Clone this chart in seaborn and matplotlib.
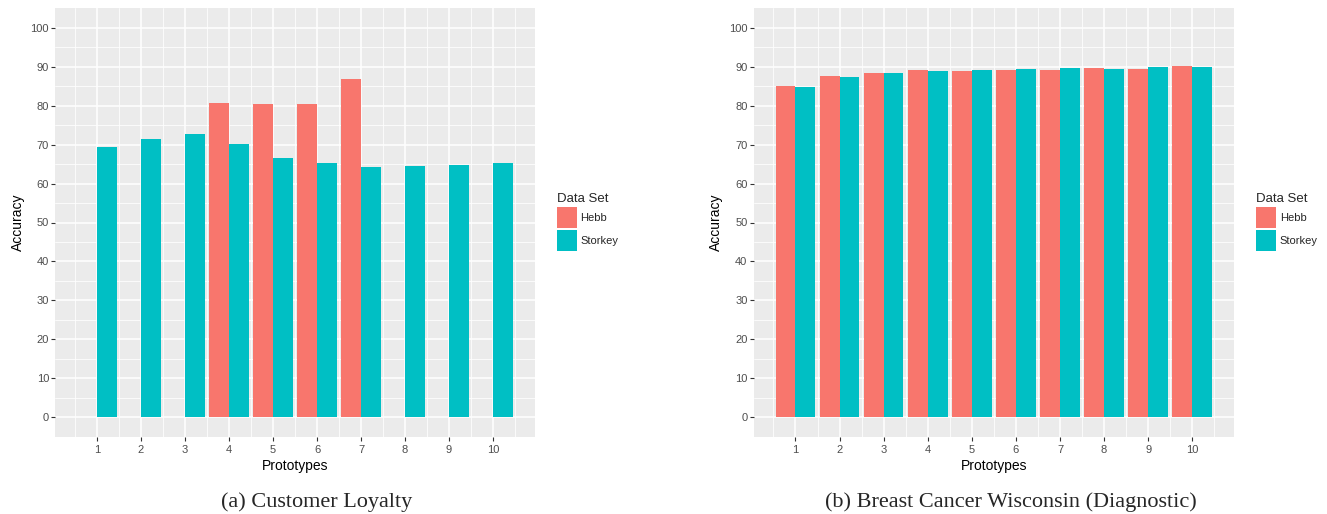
import pandas as pd
import matplotlib.pyplot as plt
from matplotlib.ticker import FixedLocator
from matplotlib.patches import Patch
import seaborn as sns

prototypes = [1, 2, 3, 4, 5, 6, 7, 8, 9, 10]
series = ["Hebb", "Storkey"]

# (a) Customer Loyalty
loyalty_hebb = [0, 0, 0, 80.8, 80.5, 80.4, 86.9, 0, 0, 0]
loyalty_storkey = [69.5, 71.5, 72.8, 70.2, 66.6, 65.2, 64.3, 64.6, 64.8, 65.3]

# (b) Breast Cancer Wisconsin (Diagnostic)
cancer_hebb = [85.1, 87.7, 88.5, 89.2, 88.8, 89.2, 89.2, 89.6, 89.4, 90.3]
cancer_storkey = [84.7, 87.3, 88.4, 88.8, 89.1, 89.3, 89.6, 89.3, 89.8, 89.8]

captions = ["(a) Customer Loyalty", "(b) Breast Cancer Wisconsin (Diagnostic)"]
colors = ["#F8766D", "#00BFC4"]

W, H = 1327, 514


def long_df(hebb, storkey):
    df = pd.DataFrame({
        "Prototypes": prototypes * 2,
        "Accuracy": hebb + storkey,
        "Data Set": ["Hebb"] * len(hebb) + ["Storkey"] * len(storkey),
    })
    return df


sns.set_theme(style="darkgrid", rc={
    "axes.facecolor": "#EBEBEB",
    "grid.color": "white",
    "axes.edgecolor": "none",
})
plt.rcParams["font.family"] = ["Liberation Sans", "DejaVu Sans"]

fig = plt.figure(figsize=(W / 100, H / 100), dpi=100)
# panel boxes in pixels: left, right
boxes = [(55.4, 534.6), (753.8, 1233.9)]
top, bottom = 8.3, 436.7
axes = [fig.add_axes([l / W, 1 - bottom / H, (r - l) / W, (bottom - top) / H])
        for l, r in boxes]

panels = [
    (axes[0], long_df(loyalty_hebb, loyalty_storkey), captions[0], 316.6),
    (axes[1], long_df(cancer_hebb, cancer_storkey), captions[1], 1011),
]

for ax, df, caption, cx in panels:
    sns.barplot(data=df, x="Prototypes", y="Accuracy", hue="Data Set",
                hue_order=series, palette=colors, width=0.9, linewidth=0,
                saturation=1, errorbar=None, ax=ax)
    ax.set_xlim(-0.945, 9.945)
    ax.set_ylim(-5, 105)
    ax.set_yticks(range(0, 101, 10))
    ax.yaxis.set_minor_locator(FixedLocator(range(5, 100, 10)))
    ax.xaxis.set_minor_locator(FixedLocator([i - 0.5 for i in range(11)]))
    ax.grid(which="major", color="white", linewidth=1.1)
    ax.grid(which="minor", color="white", linewidth=0.55)
    ax.set_axisbelow(True)
    for s in ax.spines.values():
        s.set_visible(False)
    ax.tick_params(which="major", bottom=True, left=True, length=2.75,
                   width=0.8, color="#333333", labelsize=8,
                   labelcolor="#4D4D4D")
    ax.tick_params(axis="y", pad=1.8)
    ax.tick_params(axis="x", pad=3)
    ax.tick_params(which="minor", length=0)
    ax.set_xlabel("Prototypes", fontsize=10, color="black", labelpad=3)
    ax.set_ylabel("Accuracy", fontsize=10, color="black", labelpad=4)

    # ggplot-style legend to the right of the panel
    handles = [Patch(facecolor=c, edgecolor="none") for c in colors]
    pos = ax.get_position()
    ax.legend(handles, series, title="Data Set", loc="upper left",
              bbox_to_anchor=(pos.x1 + 22 / W, 1 - 193 / H),
              bbox_transform=fig.transFigure, frameon=False,
              fontsize=8, title_fontsize=9.5, handlelength=1.8,
              handleheight=2.53, handletextpad=0.36, labelspacing=0.2,
              borderaxespad=0, borderpad=0, alignment="left")

    fig.text(cx / W, 1 - 502 / H, caption, ha="center", va="center",
             fontsize=16, family=["Liberation Serif", "DejaVu Serif"])

fig.savefig("out.png", dpi=100)
